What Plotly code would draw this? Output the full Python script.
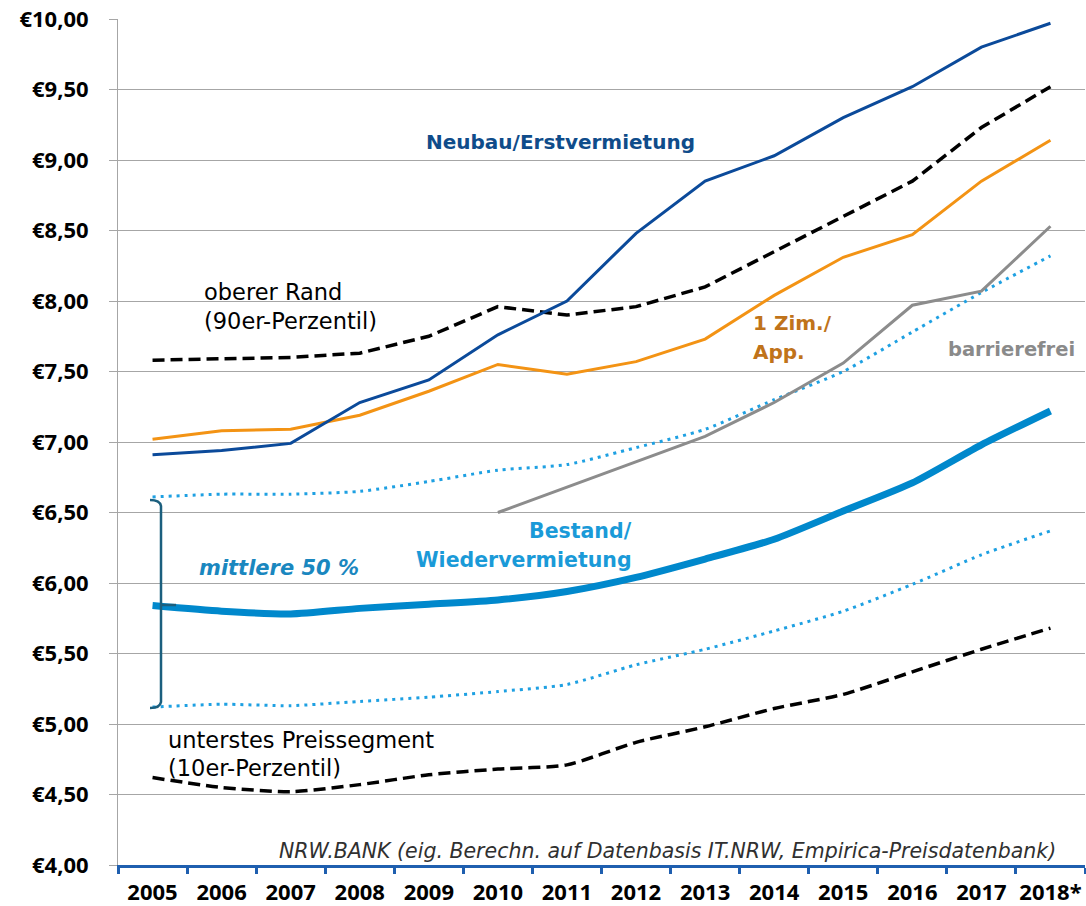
import plotly.graph_objects as go

years = ["2005", "2006", "2007", "2008", "2009", "2010", "2011", "2012", "2013", "2014", "2015", "2016", "2017", "2018*"]

neubau = [6.91, 6.94, 6.99, 7.28, 7.44, 7.76, 8.00, 8.48, 8.85, 9.03, 9.30, 9.52, 9.80, 9.97]
p90 = [7.58, 7.59, 7.60, 7.63, 7.75, 7.96, 7.90, 7.96, 8.10, 8.35, 8.60, 8.85, 9.23, 9.52]
zim1 = [7.02, 7.08, 7.09, 7.19, 7.36, 7.55, 7.48, 7.57, 7.73, 8.04, 8.31, 8.47, 8.85, 9.14]
barrierefrei = [None, None, None, None, None, 6.50, 6.68, 6.86, 7.04, 7.28, 7.56, 7.97, 8.07, 8.53]
p75 = [6.61, 6.63, 6.63, 6.65, 6.72, 6.80, 6.84, 6.96, 7.09, 7.30, 7.50, 7.78, 8.06, 8.32]
bestand = [5.84, 5.80, 5.78, 5.82, 5.85, 5.88, 5.94, 6.04, 6.17, 6.31, 6.51, 6.71, 6.98, 7.22]
p25 = [5.12, 5.14, 5.13, 5.16, 5.19, 5.23, 5.28, 5.42, 5.53, 5.66, 5.80, 5.99, 6.20, 6.37]
p10 = [4.62, 4.55, 4.52, 4.57, 4.64, 4.68, 4.71, 4.87, 4.98, 5.11, 5.21, 5.37, 5.53, 5.68]

ytick_vals = [4.0, 4.5, 5.0, 5.5, 6.0, 6.5, 7.0, 7.5, 8.0, 8.5, 9.0, 9.5, 10.0]
ytick_text = ["€4,00", "€4,50", "€5,00", "€5,50", "€6,00", "€6,50", "€7,00", "€7,50",
              "€8,00", "€8,50", "€9,00", "€9,50", "€10,00"]

TICKFONT = "Noto Sans"
LABFONT = "DejaVu Sans"
W, H = 1086, 906
L, R, T, B = 118, 1085, 19, 865


def px(x):
    return (x - L) / (R - L)


def py(y):
    return (B - y) / (B - T)


fig = go.Figure()

DASH = "12px,6px"
DOT = "3px,5px"
fig.add_trace(go.Scatter(x=years, y=p10, mode="lines",
                         line=dict(color="#000000", width=3.5, dash=DASH, shape="spline", smoothing=0.6)))
fig.add_trace(go.Scatter(x=years, y=p25, mode="lines",
                         line=dict(color="#1EA0E2", width=3, dash=DOT, shape="spline", smoothing=0.6)))
fig.add_trace(go.Scatter(x=years, y=p75, mode="lines",
                         line=dict(color="#1EA0E2", width=3, dash=DOT, shape="spline", smoothing=0.6)))
fig.add_trace(go.Scatter(x=years, y=p90, mode="lines",
                         line=dict(color="#000000", width=3.5, dash=DASH)))
fig.add_trace(go.Scatter(x=years, y=barrierefrei, mode="lines",
                         line=dict(color="#8C8C8C", width=3)))
fig.add_trace(go.Scatter(x=years, y=zim1, mode="lines",
                         line=dict(color="#F39314", width=3)))
fig.add_trace(go.Scatter(x=years, y=neubau, mode="lines",
                         line=dict(color="#0B4A9A", width=3)))
fig.add_trace(go.Scatter(x=years, y=bestand, mode="lines",
                         line=dict(color="#0088CC", width=7, shape="spline", smoothing=0.6)))


def label(text, x, y, color, size=20, bold=True, italic=False, xanchor="left"):
    fig.add_annotation(x=px(x), y=py(y), xref="paper", yref="paper", text=text,
                       showarrow=False, xanchor=xanchor, yanchor="middle",
                       font=dict(family=LABFONT, size=size, color=color,
                                 weight="bold" if bold else "normal",
                                 style="italic" if italic else "normal"))


label("Neubau/Erstvermietung", 560, 142, "#0F4C8A", xanchor="center")
label("oberer Rand", 202, 292, "#000000", size=22.5, bold=False)
label("(90er-Perzentil)", 202, 321, "#000000", size=22.5, bold=False)
label("1 Zim./", 751, 323, "#C0731A")
label("App.", 751, 352, "#C0731A")
label("barrierefrei", 946, 350, "#8A8A8A", size=19.5)
label("Bestand/", 634, 531, "#1A9AD8", size=20.5, xanchor="right")
label("Wiedervermietung", 634, 560, "#1A9AD8", size=20.5, xanchor="right")
label("mittlere 50 %", 197, 568, "#1A87BF", size=21, italic=True)
label("unterstes Preissegment", 166, 740, "#000000", size=22.5, bold=False)
label("(10er-Perzentil)", 166, 768, "#000000", size=22.5, bold=False)
label("NRW.BANK (eig. Berechn. auf Datenbasis IT.NRW, Empirica-Preisdatenbank)",
      1058, 851, "#303030", size=20.5, bold=False, italic=True, xanchor="right")

# bracket for "mittlere 50 %"
BC = "#1B5F7E"
fig.add_shape(type="path", xref="paper", yref="paper",
              path=(f"M {px(150)} {py(500)} Q {px(160)} {py(500)} {px(161)} {py(506)} "
                    f"L {px(161)} {py(702)} Q {px(160)} {py(708)} {px(150)} {py(708)}"),
              line=dict(color=BC, width=2.5))
fig.add_shape(type="line", xref="paper", yref="paper",
              x0=px(161), x1=px(176), y0=py(605), y1=py(605),
              line=dict(color=BC, width=2.5))

fig.update_layout(
    width=W, height=H,
    margin=dict(l=L, r=W - R, t=T, b=H - B, autoexpand=False),
    plot_bgcolor="white", paper_bgcolor="white",
    showlegend=False,
    font=dict(family=TICKFONT, color="#000000"),
)
fig.update_xaxes(type="category", range=[-0.5, 13.5], automargin=False, tickangle=0,
                 showgrid=False, showline=True, linecolor="#1F5FAF", linewidth=3,
                 ticks="outside", tickson="boundaries", tickcolor="#1F5FAF",
                 ticklen=6, tickwidth=2.5, ticklabelstandoff=6,
                 tickfont=dict(family=TICKFONT, size=22, color="#000000", weight="bold"))
fig.update_yaxes(range=[4, 10], tickvals=ytick_vals, ticktext=ytick_text, automargin=False,
                 showgrid=True, gridcolor="#A6A6A6", gridwidth=1,
                 showline=True, linecolor="#A6A6A6", linewidth=1,
                 ticks="outside", ticklen=8, tickcolor="#A6A6A6",
                 ticklabelstandoff=16, zeroline=False,
                 tickfont=dict(family=TICKFONT, size=22, color="#000000", weight="bold"))

fig.write_html("out.html", config={"displayModeBar": False},
               post_script="document.body.style.margin='0';document.body.style.overflow='hidden';")
